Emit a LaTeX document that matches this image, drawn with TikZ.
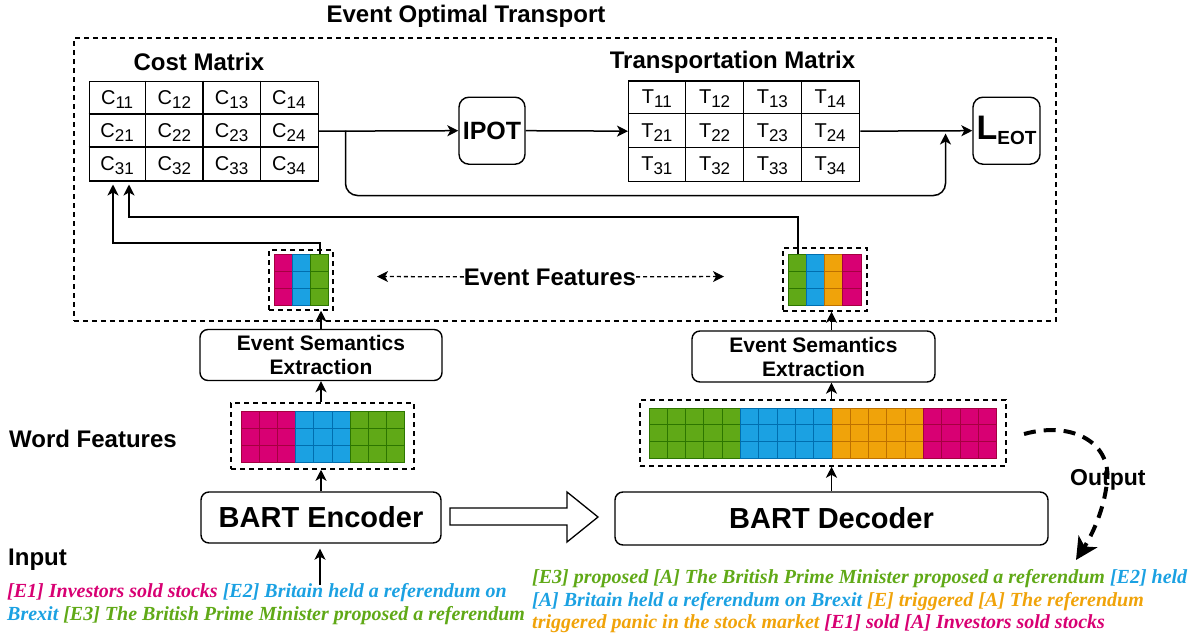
\documentclass[tikz,border=0pt]{standalone}
\usepackage{fontspec}
\setmainfont{Liberation Sans}
\newfontfamily\timesfont{Liberation Serif}
\usetikzlibrary{arrows.meta,calc}

\definecolor{magF}{HTML}{D80073}\definecolor{magL}{HTML}{A50040}
\definecolor{bluF}{HTML}{1BA1E2}\definecolor{bluL}{HTML}{006EAF}
\definecolor{grnF}{HTML}{60A917}\definecolor{grnL}{HTML}{2D7600}
\definecolor{ornF}{HTML}{F0A30A}\definecolor{ornL}{HTML}{BD7000}

\newcommand\low[1]{\raisebox{-4pt}{\fontsize{17}{17}\selectfont #1}}
\newcommand\cM[1]{\textcolor{magF}{#1}}
\newcommand\cB[1]{\textcolor{bluF}{#1}}
\newcommand\cG[1]{\textcolor{grnF}{#1}}
\newcommand\cO[1]{\textcolor{ornF}{#1}}

\tikzset{
  arr/.style={-{Stealth[length=11pt,width=11pt,inset=3pt]}, line width=1.5pt},
  darr/.style={-{Stealth[length=11pt,width=11pt,inset=3pt]}, line width=1.3pt, dash pattern=on 4pt off 3pt},
  dbox/.style={draw, dash pattern=on 5pt off 4pt, line width=1.5pt, inner sep=0},
  rbox/.style={draw, rounded corners=8pt, line width=1.4pt, inner sep=0, align=center},
  lbl/.style={font=\bfseries\fontsize{24}{28}\selectfont, inner sep=0},
  ent/.style={font=\fontsize{20}{20}\selectfont, inner sep=0, anchor=base},
  serif/.style={font=\timesfont\bfseries\itshape\fontsize{20}{23}\selectfont, inner sep=0, anchor=base west},
  cellM/.style={fill=magF, draw=magL, line width=1pt},
  cellB/.style={fill=bluF, draw=bluL, line width=1pt},
  cellG/.style={fill=grnF, draw=grnL, line width=1pt},
  cellO/.style={fill=ornF, draw=ornL, line width=1pt},
  mat/.style={draw, line width=1.4pt, inner sep=0, anchor=north west},
}

\begin{document}
\begin{tikzpicture}[x=1pt,y=-1pt]
\useasboundingbox (0,0) rectangle (1199,637);

% ---- event optimal transport frame ----
\node[dbox, minimum width=982pt, minimum height=283pt, anchor=north west] (ot) at (73,37.3) {};
\node[lbl, anchor=base] (ottitle) at (466,22) {Event Optimal Transport};

% ---- cost matrix ----
\node[lbl, anchor=base] (cmlabel) at (199,70) {Cost Matrix};
\node[mat, minimum width=229pt, minimum height=99.6pt] (cm) at (88.5,80.7) {};
\foreach \k in {1,2,3}
  \draw[line width=1.4pt] ($(cm.north west)+(\k*57.25,0)$) -- ($(cm.south west)+(\k*57.25,0)$);
\foreach \k in {1,2}
  \draw[line width=1.4pt] ($(cm.north west)+(0,\k*33.2)$) -- ($(cm.north east)+(0,\k*33.2)$);
\foreach \r in {1,2,3}
  \foreach \c in {1,2,3,4}
    \node[ent] (c\r\c) at ($(cm.north west)+({(\c-0.5)*57.25},{(\r-0.5)*33.2+7})$) {C\low{\r\c}};

% ---- transportation matrix ----
\node[lbl, anchor=base] (tmlabel) at (732.5,68.5) {Transportation Matrix};
\node[mat, minimum width=231pt, minimum height=100.5pt] (tm) at (628,80.2) {};
\foreach \k in {1,2,3}
  \draw[line width=1.4pt] ($(tm.north west)+(\k*57.75,0)$) -- ($(tm.south west)+(\k*57.75,0)$);
\foreach \k in {1,2}
  \draw[line width=1.4pt] ($(tm.north west)+(0,\k*33.5)$) -- ($(tm.north east)+(0,\k*33.5)$);
\foreach \r in {1,2,3}
  \foreach \c in {1,2,3,4}
    \node[ent] (t\r\c) at ($(tm.north west)+({(\c-0.5)*57.75},{(\r-0.5)*33.5+7})$) {T\low{\r\c}};

% ---- IPOT and loss ----
\node[rbox, rounded corners=10pt, minimum width=66pt, minimum height=67pt,
      font=\bfseries\fontsize{25}{28}\selectfont] (ipot) at (492,130.7) {IPOT};
\node[rbox, rounded corners=10pt, minimum width=67pt, minimum height=67pt,
      font=\bfseries\fontsize{34}{36}\selectfont] (leot) at (1006.5,130.7)
      {L\raisebox{-5pt}{\fontsize{19}{19}\selectfont EOT}};

\draw[arr] (cm.east) -- (ipot.west);
\draw[arr] (ipot.east) -- (tm.west);
\draw[arr] (tm.east) -- (leot.west);
\coordinate (brS) at (345.5,130.5);
\coordinate (brE) at (945.5,133.5);
\draw[arr, rounded corners=12pt] (brS) -- (345.5,195.5) -- (945.5,195.5) -- (brE);

% ---- event feature blocks ----
\foreach \col [count=\i from 0] in {M,B,G}
  \foreach \r in {0,1,2}
    \draw[cell\col] ({274+\i*18.3},{254+\r*17.3}) rectangle ++(18.3,17.3);
\node[dbox, minimum width=64pt, minimum height=60pt] (efL) at (301,280) {};

\foreach \col [count=\i from 0] in {G,B,O,M}
  \foreach \r in {0,1,2}
    \draw[cell\col] ({788+\i*18.25},{254+\r*17.3}) rectangle ++(18.25,17.3);
\node[dbox, minimum width=84pt, minimum height=63pt] (efR) at (825,279.5) {};

\node[lbl, anchor=base] (eflabel) at (550,285) {Event Features};
\coordinate (efTipL) at (377,276.5);
\coordinate (efTipR) at (724,276.5);
\draw[darr] (eflabel.west) -- (efTipL);
\draw[darr] (eflabel.east) -- (efTipR);

% event features feed the cost matrix
\coordinate (srcL) at (320,254);
\coordinate (srcR) at (798,254);
\coordinate (dstL) at (113,184.5);
\coordinate (dstR) at (129,184.5);
\draw[arr] (srcL) -- ++(0,-11) -| (dstL);
\draw[arr] (srcR) -- ++(0,-37) -| (dstR);

% ---- event semantics extraction ----
\node[rbox, minimum width=242pt, minimum height=51pt,
      font=\bfseries\fontsize{21}{24}\selectfont] (eseL) at (321,355) {Event Semantics\\Extraction};
\node[rbox, minimum width=243pt, minimum height=51pt,
      font=\bfseries\fontsize{21}{24}\selectfont] (eseR) at (813.5,356.5) {Event Semantics\\Extraction};

% ---- word features ----
\node[lbl, anchor=base west] (wflabel) at (9,447) {Word Features};
\foreach \col [count=\i from 0] in {M,M,M,B,B,B,G,G,G}
  \foreach \r in {0,1,2}
    \draw[cell\col] ({241+\i*18.2},{411+\r*17}) rectangle ++(18.2,17);
\node[dbox, minimum width=183pt, minimum height=66pt] (wfL) at (322.5,436) {};

\foreach \col [count=\i from 0] in {G,G,G,G,G,B,B,B,B,B,O,O,O,O,O,M,M,M,M}
  \foreach \r in {0,1,2}
    \draw[cell\col] ({649+\i*18.3},{408+\r*16.8}) rectangle ++(18.3,16.8);
\node[dbox, minimum width=366pt, minimum height=66pt] (wfR) at (823,433) {};

% ---- encoder / decoder ----
\node[rbox, minimum width=240pt, minimum height=51pt,
      font=\bfseries\fontsize{29}{32}\selectfont] (enc) at (321,517.5) {BART Encoder};
\node[rbox, minimum width=433pt, minimum height=53pt,
      font=\bfseries\fontsize{29}{32}\selectfont] (dec) at (831.5,518.5) {BART Decoder};

\draw[line width=1.3pt, fill=white] (450,508) -- (567,508) -- (567,492) -- (598,517)
  -- (567,542) -- (567,525) -- (450,525) -- cycle;

% vertical flow, encoder side
\draw[arr] (enc.north) -- (enc.north |- wfL.south);
\draw[arr] (enc.north |- wfL.north) -- (enc.north |- eseL.south);
\draw[arr] (enc.north |- eseL.north) -- (enc.north |- efL.south);
% vertical flow, decoder side
\draw[arr] (dec.north) -- (dec.north |- wfR.south);
\draw[arr] (dec.north |- wfR.north) -- (dec.north |- eseR.south);
\draw[arr] (dec.north |- eseR.north) -- (dec.north |- efR.south);

% ---- input ----
\node[lbl, anchor=base west] (inlabel) at (8,565) {Input};
\node[serif] (in1) at (7,597) {\cM{[E1] Investors sold stocks} \cB{[E2] Britain held a referendum on}};
\node[serif] (in2) at (7,620) {\cB{Brexit} \cG{[E3] The British Prime Minister proposed a referendum}};
\coordinate (inSrc) at (320,585);
\draw[arr, shorten >=5pt] (inSrc) -- (enc.south -| inSrc);

% ---- output ----
\node[lbl, font=\bfseries\fontsize{23}{26}\selectfont, anchor=base west] (outlabel) at (1070,485) {Output};
\coordinate (oS) at (1024,434);
\coordinate (oE) at (1076,560);
\draw[line width=4pt, dash pattern=on 12pt off 8pt, -{Stealth[length=22pt,width=22pt,inset=6pt]}]
  (oS) .. controls (1075,420) and (1112,445) .. (1107,482)
  .. controls (1104,510) and (1092,535) .. (oE);
\node[serif] (out1) at (532,583) {\cG{[E3] proposed [A] The British Prime Minister proposed a referendum} \cB{[E2] held}};
\node[serif] (out2) at (532,606) {\cB{[A] Britain held a referendum on Brexit} \cO{[E] triggered [A] The referendum}};
\node[serif] (out3) at (532,628) {\cO{triggered panic in the stock market} \cM{[E1] sold [A] Investors sold stocks}};
\end{tikzpicture}
\end{document}
